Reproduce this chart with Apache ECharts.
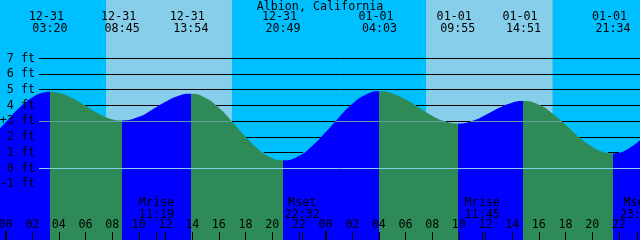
<!DOCTYPE html>
<html><head><meta charset="utf-8">
<script src="https://cdn.jsdelivr.net/npm/echarts@6/dist/echarts.min.js"></script>
<style>html,body{margin:0;padding:0;background:#00bfff}#c{width:640px;height:240px}</style>
</head><body><div id="c"></div>
<script>
// ---- data (hours counted from 12-31 00:00) ----
const chartTitle = 'Albion, California';
const curveTimes   = [-0.4125, 0, 1, 2, 3, 3.333, 4, 5, 6, 7, 8, 8.75, 10, 11, 12, 13, 13.9, 15, 16, 17, 18, 19, 20, 20.817, 22, 23, 24, 25, 26, 27, 28.05, 29, 30, 31, 32, 33, 33.917, 35, 36, 37, 38, 38.85, 40, 41, 42, 43, 44, 45, 45.567, 46, 47, 47.5875];
const curveHeights = [2.55, 2.92, 3.83, 4.52, 4.86, 4.88, 4.81, 4.49, 3.99, 3.49, 3.14, 3.06, 3.29, 3.74, 4.24, 4.63, 4.75, 4.49, 3.86, 2.98, 2.03, 1.20, 0.66, 0.52, 0.80, 1.43, 2.30, 3.25, 4.10, 4.69, 4.91, 4.78, 4.40, 3.88, 3.36, 2.99, 2.87, 3.03, 3.41, 3.85, 4.19, 4.29, 4.06, 3.52, 2.79, 2.02, 1.39, 1.02, 0.96, 1.00, 1.42, 1.80];
const extremeDates = ['12-31','12-31','12-31','12-31','01-01','01-01','01-01','01-01'];
const extremeClock = ['03:20','08:45','13:54','20:49','04:03','09:55','14:51','21:34'];
const extremeKinds = ['H','L','H','L','H','L','H','L'];
const hourTicks = [0,2,4,6,8,10,12,14,16,18,20,22,24,26,28,30,32,34,36,38,40,42,44,46];
const midnightTicks = [0, 24];
const moonTimes  = [11.32, 22.25, 35.75, 47.4];
const moonLabels = ['Mrise\n11:19', 'Mset\n22:32', 'Mrise\n11:45', 'Mset\n23:21'];
const dayStarts = [7.54, 31.54];
const dayEnds   = [16.98, 41.03];
const footLevels = [-1, 0, 1, 2, 3, 4, 5, 6, 7];
// black foot rules, visible only where the sky is below the level: [level, from hour, to hour] (null = chart edge)
const ruleSegments = [[7, null, null], [6, null, null], [5, null, null],
  [4, 5.98, 11.52], [4, 15.78, 25.88], [4, 30.77, 37.44], [4, 40.11, null],
  [3, 16.98, 24.74], [3, 33.0, 34.86], [3, 41.71, null],
  [2, 18.04, 23.66], [2, 43.03, null],
  [1, 19.37, 22.32], [1, 45.2, 46.0]];
// lines drawn over the water: [level, from hour, to hour]
const waterLineSegments = [[0, null, null], [3, null, 16.98], [3, 24.74, 33.0], [3, 34.86, 41.71]];

// ---- style / layout ----
const FONT = 'DejaVu Sans Mono', FS = 11.7;
const NIGHT = '#00bfff', DAY = '#87ceeb', FLOOD = '#0000ff', EBB = '#2e8b57';
const MSL_COLOR = '#5f9ea0', DATUM_COLOR = '#87ceeb';
const X_MIN = -0.4125, X_MAX = 47.5875, Y_MIN = -4.55, Y_MAX = 10.7227;
const H = 240, LABEL_W = 39;
const G1_MIN = X_MIN + LABEL_W * (X_MAX - X_MIN) / 640;
const L_SKY = 0, L_WATER = 1, L_TEXT = 2;
const crisp = v => { const p = (Y_MAX - v) / (Y_MAX - Y_MIN) * H; return Y_MAX - (Math.floor(p + 1e-6) + 0.5) * (Y_MAX - Y_MIN) / H; };
const seg = (s, style) => {
  const a = s[1] == null ? G1_MIN : Math.max(s[1], G1_MIN), b = s[2] == null ? X_MAX : Math.min(s[2], X_MAX);
  const y = crisp(s[0]);
  return [Object.assign({ coord: [a, y] }, style ? { lineStyle: style } : {}), { coord: [b, y] }];
};

const extremeTs = extremeDates.map((d, i) => {
  const [hh, mm] = extremeClock[i].split(':').map(Number);
  return (d === '12-31' ? 0 : 24) + hh + mm / 60;
});
const near = (arr, v) => arr.findIndex(a => Math.abs(a - v) < 1e-6);

const pieces = [];
const n = extremeTs.length;
pieces.push({ lt: extremeTs[0], color: extremeKinds[0] === 'H' ? FLOOD : EBB });
for (let i = 0; i < n - 1; i++) pieces.push({ gte: extremeTs[i], lt: extremeTs[i + 1], color: extremeKinds[i] === 'H' ? EBB : FLOOD });
pieces.push({ gte: extremeTs[n - 1], color: extremeKinds[n - 1] === 'H' ? EBB : FLOOD });

const gridMarks = ruleSegments.map(s => seg(s, { color: '#000' }));
const lineMarks = waterLineSegments.map(s => seg(s, { color: s[0] === 0 ? DATUM_COLOR : MSL_COLOR }));

const lbl = (extra) => Object.assign({ color: '#000', fontFamily: FONT, fontSize: FS }, extra);
const hidden = () => ({ show: false, onZero: false });
const off = () => ({ show: false });

const xBase = (grid, min, pos, zl) => ({ gridIndex: grid, type: 'value', min: min, max: X_MAX, position: pos, zlevel: zl, z: 1,
  axisLine: hidden(), splitLine: off(), splitArea: off() });
const yBase = (grid, zl) => ({ gridIndex: grid, type: 'value', min: Y_MIN, max: Y_MAX, position: 'left', zlevel: zl, z: 1,
  axisLine: hidden(), splitLine: off(), splitArea: off() });

const chart = echarts.init(document.getElementById('c'), null, { renderer: 'canvas' });
chart.setOption({
  animation: false,
  backgroundColor: NIGHT,
  textStyle: { fontFamily: FONT, fontSize: FS, color: '#000' },
  title: { text: chartTitle, left: 'center', top: 0, padding: 0, zlevel: L_TEXT, z: 5,
    textStyle: { fontFamily: FONT, fontSize: FS, fontWeight: 'normal', color: '#000', lineHeight: 13 } },
  grid: [
    { left: 0, right: 0, top: 0, bottom: 0, containLabel: false, outerBoundsMode: 'none' },
    { left: LABEL_W, right: 0, top: 0, bottom: 0, containLabel: false, outerBoundsMode: 'none' },
    { left: LABEL_W, right: 0, top: 0, bottom: 0, containLabel: false, outerBoundsMode: 'none' },
    { left: 0, right: 0, top: 0, bottom: 0, containLabel: false, outerBoundsMode: 'none' }
  ],
  xAxis: [
    Object.assign(xBase(0, X_MIN, 'bottom', L_SKY), { axisTick: off(), axisLabel: off() }),
    Object.assign(xBase(3, X_MIN, 'bottom', L_TEXT), {
      axisTick: { show: true, inside: true, length: 8, customValues: hourTicks, lineStyle: { color: '#000', width: 1 } },
      axisLabel: lbl({ inside: true, margin: 9, lineHeight: 12, customValues: hourTicks,
        formatter: v => String(((Math.round(v) % 24) + 24) % 24).padStart(2, '0') }) }),
    Object.assign(xBase(3, X_MIN, 'top', L_TEXT), {
      axisTick: { show: false, customValues: extremeTs },
      axisLabel: lbl({ inside: true, margin: 11, lineHeight: 12, customValues: extremeTs,
        formatter: v => { const i = near(extremeTs, v); return i < 0 ? '' : extremeDates[i] + ' \n' + extremeClock[i]; } }) }),
    Object.assign(xBase(3, X_MIN, 'bottom', L_TEXT), {
      axisTick: { show: true, inside: true, length: 9, customValues: midnightTicks, lineStyle: { color: '#000', width: 2 } },
      axisLabel: { show: false, customValues: midnightTicks } }),
    Object.assign(xBase(3, X_MIN, 'bottom', L_TEXT), {
      axisTick: { show: true, inside: true, length: 8, customValues: moonTimes, lineStyle: { color: '#000', width: 1 } },
      axisLabel: lbl({ inside: true, margin: 19, lineHeight: 12, customValues: moonTimes,
        formatter: v => { const i = near(moonTimes, v); return i < 0 ? '' : moonLabels[i]; } }) }),
    Object.assign(xBase(1, G1_MIN, 'bottom', L_SKY), { axisTick: off(), axisLabel: off() }),
    Object.assign(xBase(2, G1_MIN, 'bottom', L_TEXT), { axisTick: off(), axisLabel: off() })
  ],
  yAxis: [
    Object.assign(yBase(0, L_SKY), { axisTick: off(), axisLabel: off() }),
    Object.assign(yBase(1, L_SKY), { axisTick: off(), axisLabel: off() }),
    Object.assign(yBase(2, L_TEXT), { axisTick: { show: false, customValues: footLevels },
      axisLabel: lbl({ margin: 4, customValues: footLevels, formatter: v => (v === 3 ? '+3' : String(v)) + ' ft' }) }),
    Object.assign(yBase(3, L_TEXT), { axisTick: off(), axisLabel: off() })
  ],
  visualMap: { type: 'piecewise', show: false, dimension: 0, seriesIndex: 0, pieces: pieces },
  series: [
    { type: 'line', xAxisIndex: 0, yAxisIndex: 0, zlevel: L_WATER, z: 2, smooth: true, symbol: 'none', silent: true,
      data: curveTimes.map((t, i) => [t, curveHeights[i]]),
      lineStyle: { width: 0 }, areaStyle: { opacity: 1, origin: 'start' },
      markArea: { zlevel: L_SKY, z: -2, silent: true, itemStyle: { color: DAY, borderWidth: 0 }, label: { show: false },
        data: dayStarts.map((s, i) => [{ xAxis: s }, { xAxis: dayEnds[i] }]) } },
    { type: 'line', xAxisIndex: 5, yAxisIndex: 1, zlevel: L_SKY, z: 0, data: [], symbol: 'none', silent: true,
      markLine: { zlevel: L_SKY, z: 0, silent: true, symbol: ['none', 'none'], label: { show: false }, precision: 10,
        lineStyle: { type: 'solid', width: 1, color: '#000' }, data: gridMarks } },
    { type: 'line', xAxisIndex: 5, yAxisIndex: 1, zlevel: L_WATER, z: 3, data: [], symbol: 'none', silent: true,
      markLine: { zlevel: L_WATER, z: 5, silent: true, symbol: ['none', 'none'], label: { show: false }, precision: 10,
        lineStyle: { type: 'solid', width: 1 }, data: lineMarks } }
  ]
});
</script></body></html>
